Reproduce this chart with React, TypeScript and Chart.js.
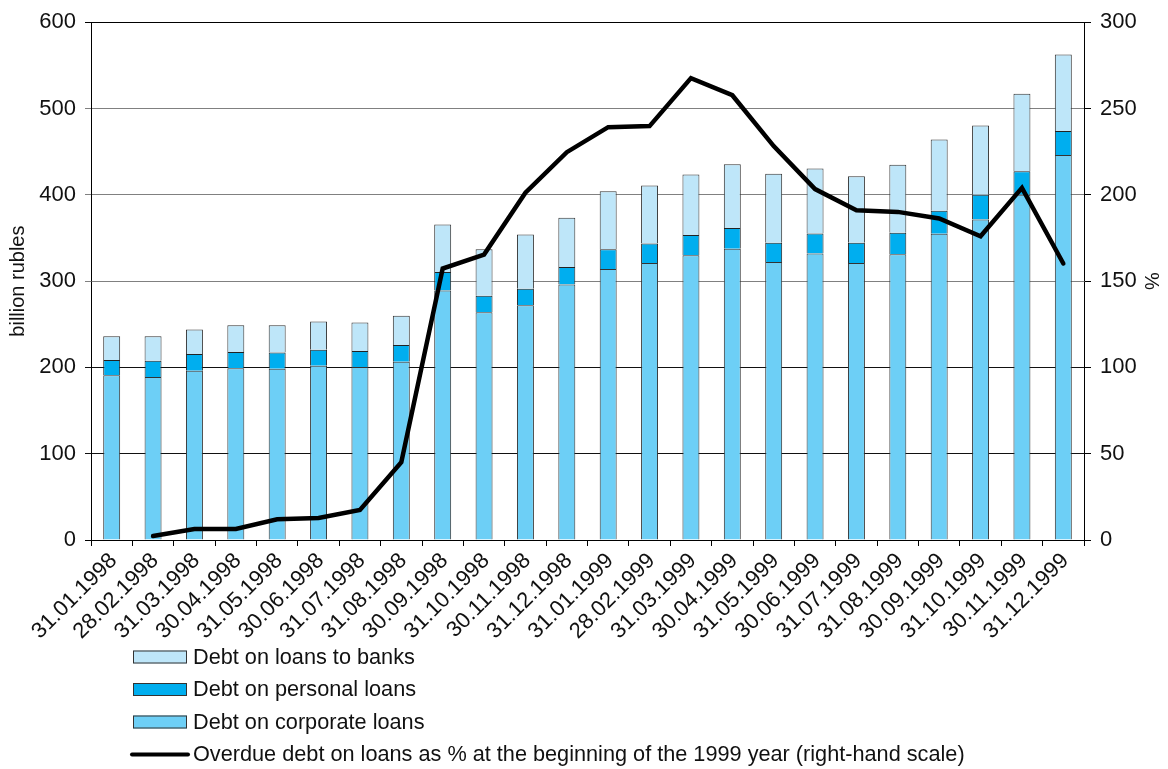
import React, { useEffect, useRef } from 'react';
import { Chart, registerables } from 'chart.js';

Chart.register(...registerables);

const categories = [
  '31.01.1998', '28.02.1998', '31.03.1998', '30.04.1998', '31.05.1998', '30.06.1998',
  '31.07.1998', '31.08.1998', '30.09.1998', '31.10.1998', '30.11.1998', '31.12.1998',
  '31.01.1999', '28.02.1999', '31.03.1999', '30.04.1999', '31.05.1999', '30.06.1999',
  '31.07.1999', '31.08.1999', '30.09.1999', '31.10.1999', '30.11.1999', '31.12.1999',
];

const corporateLoans = [191, 189, 196, 199, 198.5, 202, 200.5, 206.5, 289, 264, 272, 296, 314, 321, 330, 337.5, 322, 332, 321, 331, 355, 371.5, 400, 446];
const personalLoans = [17.5, 18.7, 19.5, 18.8, 18.9, 18.5, 18.4, 19.4, 21.4, 19, 19, 20.2, 23, 22.6, 23.3, 23.9, 22.4, 23.3, 23.4, 25, 26.5, 28.5, 27.4, 27.8];
const bankLoans = [27.5, 28.3, 28.5, 30.9, 31.3, 32.8, 33.2, 33.9, 55.3, 54, 63, 57.2, 67, 67.3, 70.3, 74.1, 79.9, 75.2, 77.2, 78.7, 82.6, 80.3, 89.6, 88.8];
const overduePct = [null, 2.3, 6.4, 6.4, 12, 12.7, 17.4, 45, 157.3, 165.4, 201.2, 224.7, 239.2, 239.8, 267.6, 257.7, 228.2, 203.3, 191.1, 190.1, 186.3, 176, 204, 160.2];

const leftTicks = [0, 100, 200, 300, 400, 500, 600];
const rightTicks = [0, 50, 100, 150, 200, 250, 300];

const FONT = "'Liberation Sans', Arial, Helvetica, sans-serif";

const legendPlugin = {
  id: 'verticalLegend',
  afterDraw(chart: any) {
    const ctx = chart.ctx;
    const ds = chart.data.datasets;
    const order = [3, 2, 1, 0];
    const area = chart.chartArea;
    const boxX = area.left + 42;
    const boxW = 54;
    const boxH = 13;
    const y0 = area.bottom + 117;
    const step = 32.5;
    ctx.save();
    ctx.font = `21.7px ${FONT}`;
    ctx.textBaseline = 'middle';
    ctx.textAlign = 'left';
    order.forEach((idx, row) => {
      const d = ds[idx];
      const cy = y0 + row * step;
      if (d.type === 'line') {
        ctx.strokeStyle = d.borderColor;
        ctx.lineWidth = 4;
        ctx.lineCap = 'round';
        ctx.beginPath();
        ctx.moveTo(boxX - 1, cy);
        ctx.lineTo(boxX + boxW + 1, cy);
        ctx.stroke();
      } else {
        ctx.fillStyle = d.backgroundColor;
        ctx.fillRect(boxX, cy - boxH / 2, boxW, boxH);
        ctx.strokeStyle = '#333';
        ctx.lineWidth = 1;
        ctx.strokeRect(boxX + 0.5, cy - boxH / 2 + 0.5, boxW - 1, boxH - 1);
      }
      ctx.fillStyle = '#111';
      ctx.fillText(d.label, boxX + boxW + 6, cy + 1);
    });
    ctx.restore();
  },
};

export default function App() {
  const ref = useRef<HTMLCanvasElement>(null);
  useEffect(() => {
    if (!ref.current) return;
    const gridColors = ['#000', '#111', '#111', '#808080', '#808080', '#808080', '#000'];
    const chart = new Chart(ref.current, {
      type: 'bar',
      data: {
        labels: categories,
        datasets: [
          {
            type: 'line',
            label: 'Overdue debt on loans as % at the beginning of the 1999 year (right-hand scale)',
            data: overduePct,
            yAxisID: 'y1',
            borderColor: '#000',
            backgroundColor: '#000',
            borderWidth: 4.5,
            pointRadius: 0,
            tension: 0,
            borderCapStyle: 'round',
            borderJoinStyle: 'miter',
            order: 0,
          } as any,
          {
            label: 'Debt on corporate loans',
            data: corporateLoans,
            backgroundColor: '#6dcff6',
            borderColor: '#333',
            borderWidth: 1,
            yAxisID: 'y',
            stack: 's',
            order: 1,
          },
          {
            label: 'Debt on personal loans',
            data: personalLoans,
            backgroundColor: '#00aeef',
            borderColor: '#222',
            borderWidth: 1,
            yAxisID: 'y',
            stack: 's',
            order: 1,
          },
          {
            label: 'Debt on loans to banks',
            data: bankLoans,
            backgroundColor: '#bee6f9',
            borderColor: '#333',
            borderWidth: 1,
            yAxisID: 'y',
            stack: 's',
            order: 1,
          },
        ],
      },
      options: {
        animation: false,
        responsive: true,
        maintainAspectRatio: false,
        layout: { padding: { top: 22, bottom: 129, left: 0, right: 0 } },
        datasets: {
          bar: { barPercentage: 0.41, categoryPercentage: 1 },
        },
        plugins: {
          legend: { display: false },
          tooltip: { enabled: false },
          title: { display: false },
        },
        scales: {
          x: {
            stacked: true,
            offset: true,
            grid: {
              offset: true,
              drawOnChartArea: false,
              drawTicks: true,
              tickLength: 6,
              color: '#000',
            },
            border: { display: true, color: '#000', width: 1 },
            ticks: {
              font: { family: FONT, size: 22 },
              color: '#111',
              maxRotation: 45,
              minRotation: 45,
              autoSkip: false,
              padding: 2,
              labelOffset: 2,
            },
            afterFit: (s: any) => { s.height = 100; },
          },
          y: {
            stacked: true,
            position: 'left',
            min: 0,
            max: 600,
            afterBuildTicks: (s: any) => { s.ticks = leftTicks.map((v) => ({ value: v })); },
            grid: {
              color: (c: any) => gridColors[c.index] ?? '#000',
              tickLength: 6,
              lineWidth: 1,
            },
            border: { display: true, color: '#000', width: 1 },
            ticks: {
              font: { family: FONT, size: 22 },
              color: '#111',
              padding: 9,
            },
            title: {
              display: true,
              text: 'billion rubles',
              font: { family: FONT, size: 20 },
              color: '#111',
              padding: { top: 6, bottom: 0 },
            },
            afterFit: (s: any) => { s.width = 91; },
          },
          y1: {
            position: 'right',
            min: 0,
            max: 300,
            afterBuildTicks: (s: any) => { s.ticks = rightTicks.map((v) => ({ value: v })); },
            grid: {
              drawOnChartArea: false,
              tickLength: 7,
              color: '#000',
            },
            border: { display: true, color: '#000', width: 1 },
            ticks: {
              font: { family: FONT, size: 22 },
              color: '#111',
              padding: 9,
            },
            title: {
              display: true,
              text: '%',
              font: { family: FONT, size: 20 },
              color: '#111',
              padding: { top: 5, bottom: 0 },
            },
            afterFit: (s: any) => { s.width = 84; },
          },
        },
      },
      plugins: [legendPlugin],
    });
    return () => chart.destroy();
  }, []);

  return (
    <div style={{ position: 'fixed', left: 0, top: 0, width: 1168, height: 769, background: '#fff' }}>
      <canvas ref={ref} />
    </div>
  );
}
